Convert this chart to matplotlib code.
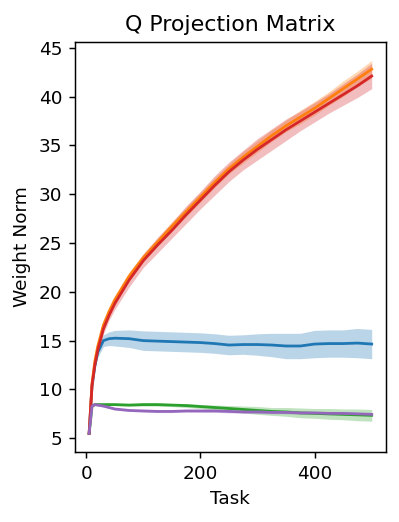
import matplotlib
matplotlib.use("Agg")
import matplotlib.pyplot as plt
import numpy as np

tasks = [5, 10, 15, 20, 30, 40, 50, 75, 100, 125, 150, 175, 200, 225, 250,
         275, 300, 325, 350, 375, 400, 425, 450, 475, 500]

blue = [5.5, 10.3, 12.4, 13.8, 15.0, 15.2, 15.25, 15.2, 15.0, 14.95, 14.9, 14.85,
        14.8, 14.7, 14.55, 14.6, 14.6, 14.55, 14.45, 14.45, 14.65, 14.7, 14.7, 14.75, 14.65]
blue_sd = [0, 0.2, 0.3, 0.5, 0.6, 0.7, 0.8, 0.9, 1.0, 1.0, 1.0, 1.0, 1.0, 1.0, 1.0,
           1.0, 1.1, 1.2, 1.3, 1.3, 1.4, 1.4, 1.4, 1.5, 1.5]

orange = [5.5, 10.6, 12.9, 14.4, 16.6, 18.0, 19.2, 21.6, 23.5, 25.1, 26.7, 28.2,
          29.7, 31.2, 32.6, 33.8, 34.9, 36.0, 37.0, 37.9, 38.8, 39.8, 40.8, 41.8, 42.8]
orange_sd = [0, 0.1, 0.2, 0.2, 0.3, 0.3, 0.3, 0.4, 0.4, 0.4, 0.5, 0.5, 0.5, 0.5, 0.5,
             0.6, 0.6, 0.6, 0.6, 0.7, 0.7, 0.7, 0.8, 0.8, 0.9]

green = [5.5, 8.3, 8.45, 8.45, 8.45, 8.45, 8.45, 8.4, 8.45, 8.45, 8.4, 8.35, 8.25,
         8.15, 8.05, 7.95, 7.85, 7.75, 7.7, 7.6, 7.55, 7.5, 7.45, 7.4, 7.35]
green_sd = [0, 0.1, 0.1, 0.1, 0.1, 0.1, 0.1, 0.1, 0.15, 0.15, 0.15, 0.2, 0.2, 0.25,
            0.3, 0.35, 0.4, 0.4, 0.45, 0.5, 0.5, 0.55, 0.55, 0.6, 0.6]

red = [5.5, 10.4, 12.5, 14.0, 16.2, 17.6, 18.8, 21.2, 23.2, 24.8, 26.3, 27.9, 29.4,
       30.9, 32.3, 33.5, 34.6, 35.6, 36.6, 37.5, 38.4, 39.3, 40.2, 41.1, 42.1]
red_sd = [0, 0.2, 0.3, 0.4, 0.5, 0.5, 0.6, 0.7, 0.7, 0.8, 0.8, 0.9, 0.9, 1.0, 1.0,
          1.0, 1.1, 1.1, 1.1, 1.0, 1.0, 1.0, 1.1, 1.2, 1.3]

purple = [5.5, 8.3, 8.45, 8.4, 8.3, 8.15, 8.0, 7.85, 7.8, 7.75, 7.75, 7.8, 7.8,
          7.8, 7.75, 7.7, 7.7, 7.65, 7.65, 7.6, 7.6, 7.55, 7.55, 7.5, 7.45]
purple_sd = [0, 0.1, 0.1, 0.1, 0.1, 0.1, 0.1, 0.1, 0.12, 0.12, 0.12, 0.12, 0.15,
             0.15, 0.15, 0.15, 0.15, 0.15, 0.15, 0.15, 0.15, 0.15, 0.15, 0.15, 0.15]

series = [(blue, blue_sd, "tab:blue"),
          (orange, orange_sd, "tab:orange"),
          (green, green_sd, "tab:green"),
          (red, red_sd, "tab:red"),
          (purple, purple_sd, "tab:purple")]

fig, ax = plt.subplots(figsize=(3.0, 3.925), dpi=133)
x = np.array(tasks)
for mean, sd, color in series:
    mean = np.array(mean)
    sd = np.array(sd)
    ax.plot(x, mean, color=color)
    ax.fill_between(x, mean - sd, mean + sd, color=color, alpha=0.3, lw=0)

ax.set_title("Q Projection Matrix")
ax.set_xlabel("Task")
ax.set_ylabel("Weight Norm")
ax.set_yticks([5, 10, 15, 20, 25, 30, 35, 40, 45])
ax.set_xticks([0, 200, 400])
fig.subplots_adjust(left=0.188, right=0.967, top=0.92, bottom=0.134)
plt.savefig("out.png")
